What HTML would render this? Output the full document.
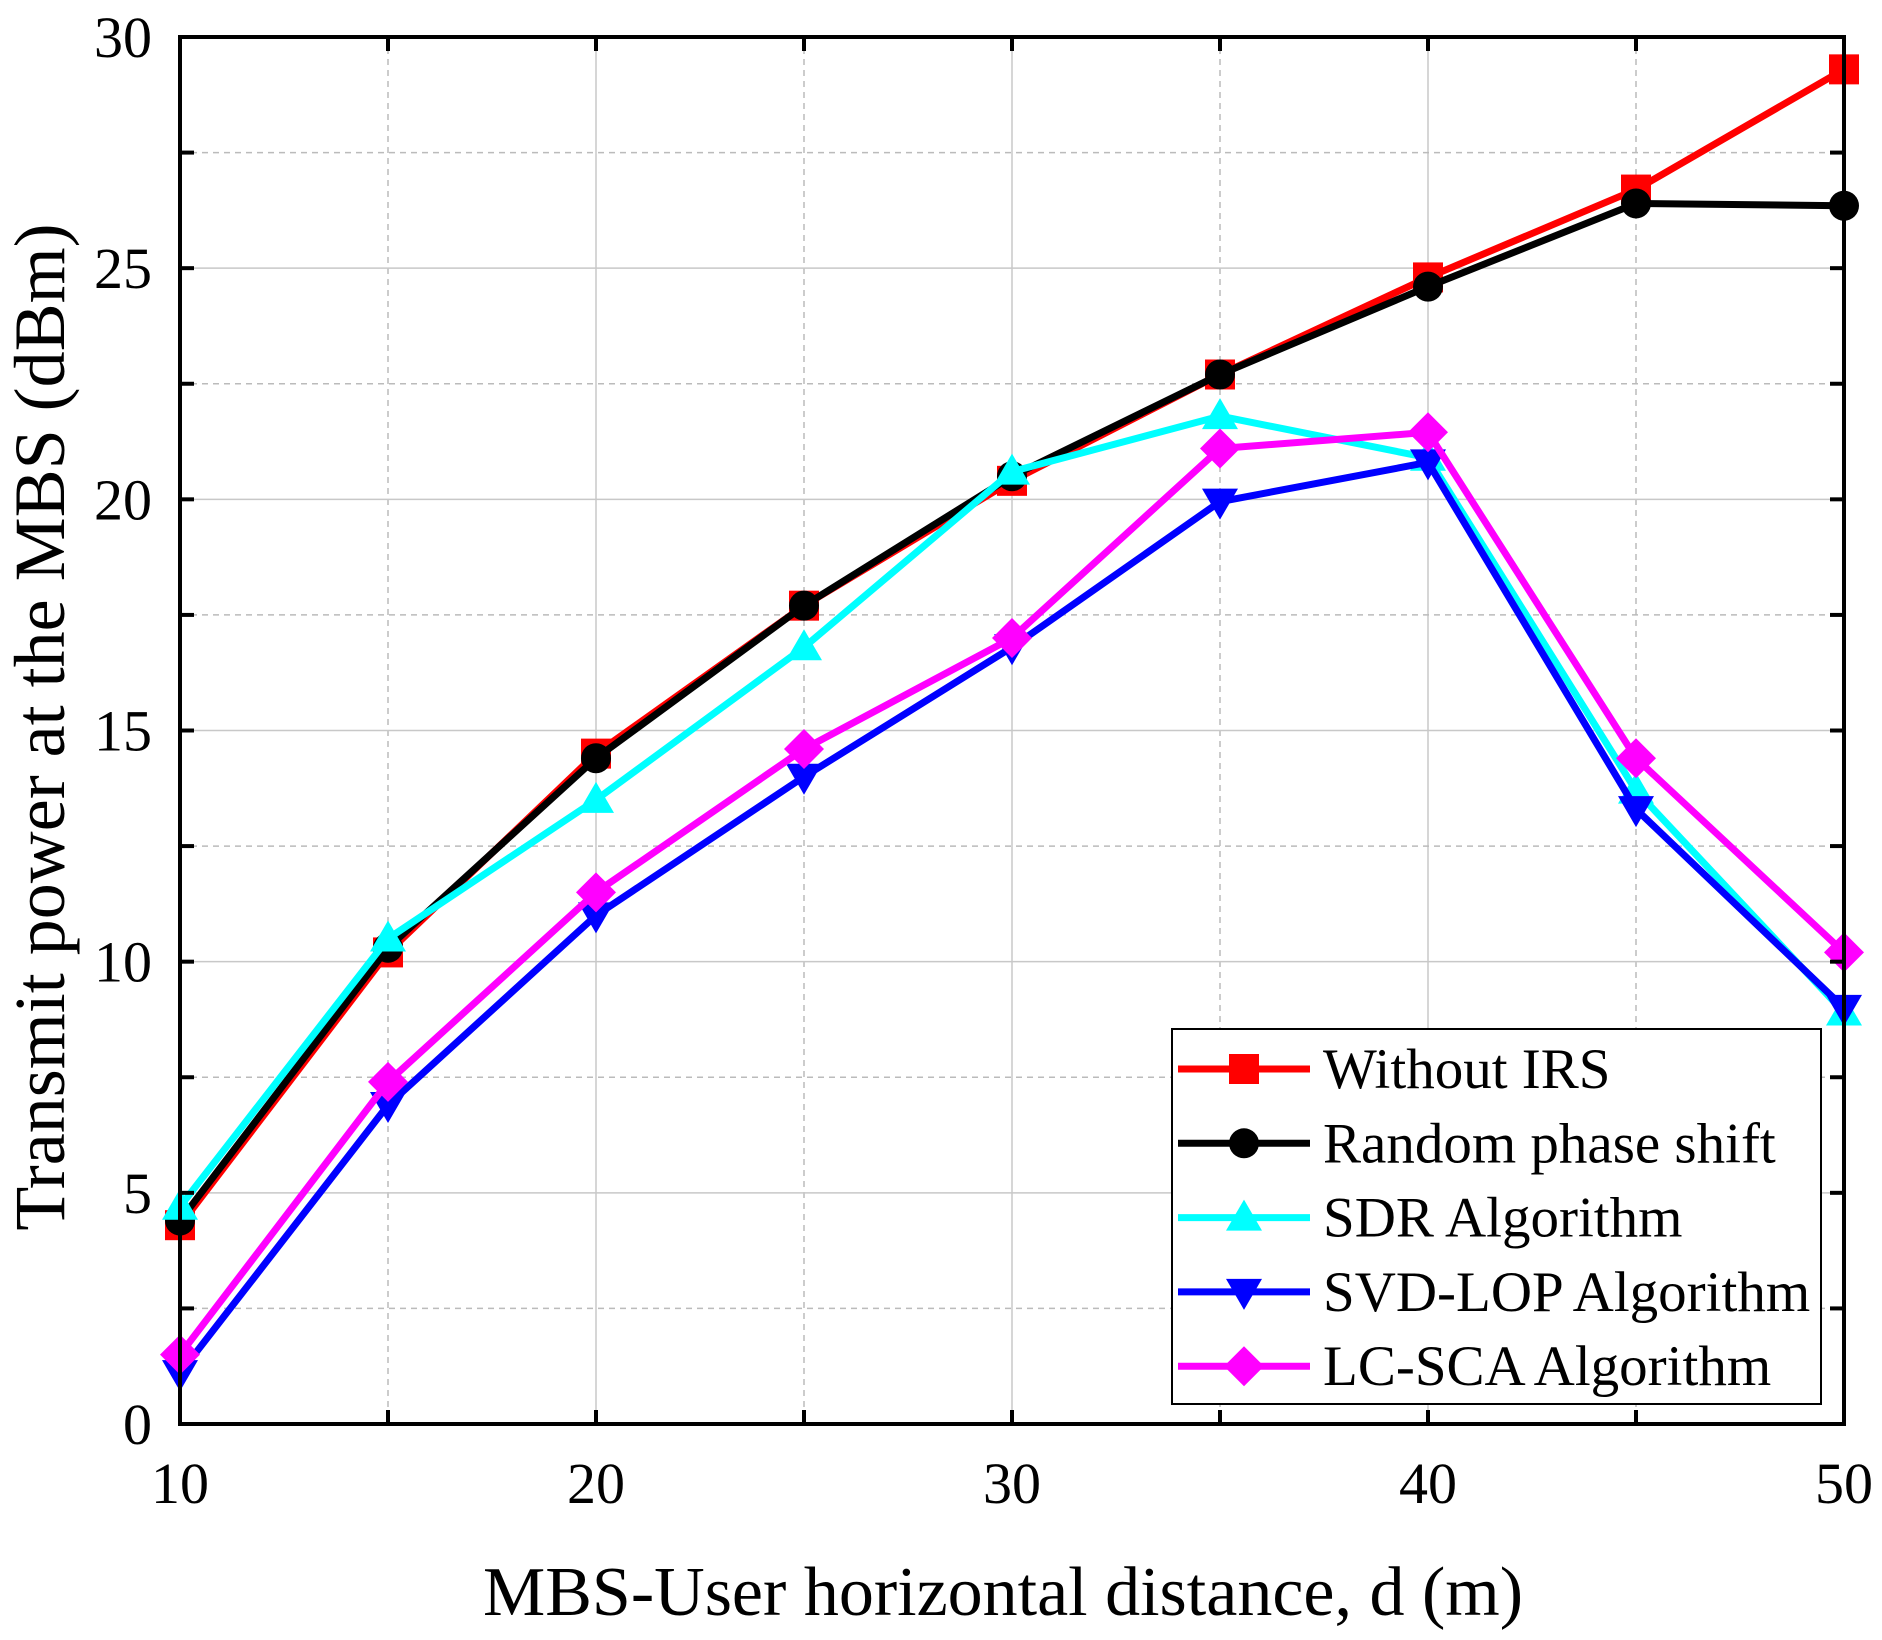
<!DOCTYPE html>
<html><head><meta charset="utf-8"><style>
html,body{margin:0;padding:0;background:#fff;}
svg{display:block;font-family:"Liberation Serif",serif;}
</style></head><body>
<svg id="chart" width="1882" height="1640" viewBox="0 0 1882 1640" xmlns="http://www.w3.org/2000/svg">
<g id="grid"></g>
<g id="series"></g>
<g id="axes"></g>
<g id="legend"></g>
<text x="1003" y="1615" font-size="70" text-anchor="middle">MBS-User horizontal distance, d (m)</text>
<text transform="translate(64,727) rotate(-90)" font-size="72" text-anchor="middle">Transmit power at the MBS (dBm)</text>
</svg>
<script>
const xValues = [10,15,20,25,30,35,40,45,50];
const withoutIRS = [4.3,10.2,14.5,17.7,20.4,22.7,24.8,26.7,29.3];
const randomPhase = [4.4,10.3,14.4,17.7,20.5,22.7,24.6,26.4,26.35];
const sdr = [4.7,10.5,13.5,16.8,20.6,21.8,20.9,13.7,8.9];
const svdLop = [1.1,6.9,11.0,14.0,16.8,19.95,20.8,13.3,9.0];
const lcSca = [1.5,7.4,11.5,14.6,17.0,21.1,21.45,14.4,10.2];
const xTicks = [10,20,30,40,50];
const yTicks = [0,5,10,15,20,25,30];
const seriesNames = ["Without IRS","Random phase shift","SDR Algorithm","SVD-LOP Algorithm","LC-SCA Algorithm"];

const NS="http://www.w3.org/2000/svg";
const L=180,R=1844,T=37,B=1424;
const X=v=>L+(v-10)/40*(R-L);
const Y=v=>B-v/30*(B-T);
function mk(tag,attrs,parent){const e=document.createElementNS(NS,tag);for(const k in attrs)e.setAttribute(k,attrs[k]);parent.appendChild(e);return e;}
const grid=document.getElementById('grid'),axes=document.getElementById('axes'),ser=document.getElementById('series'),leg=document.getElementById('legend');

for(let v=10;v<=50;v+=5){
  const major=(v%10===0);
  const g=mk('line',{x1:X(v),x2:X(v),y1:T,y2:B,stroke:major?'#c8c8c8':'#bbb','stroke-width':1.5,'stroke-dasharray':major?'none':'6,5'},grid);
  
  
  for(const [y0,y1] of [[B,B-14],[T,T+14]]){
    const t=mk('line',{x1:X(v),x2:X(v),y1:y0,y2:y1,stroke:'#000','stroke-width':4},axes);
    
    
  }
}
for(let v=0;v<=30;v+=2.5){
  const major=(v%5===0);
  const g=mk('line',{x1:L,x2:R,y1:Y(v),y2:Y(v),stroke:major?'#c8c8c8':'#bbb','stroke-width':1.5,'stroke-dasharray':major?'none':'6,5'},grid);
  
  
  for(const [x0,x1] of [[L,L+14],[R,R-14]]){
    const t=mk('line',{x1:x0,x2:x1,y1:Y(v),y2:Y(v),stroke:'#000','stroke-width':4},axes);
    
    
  }
}
const frame=mk('rect',{x:L,y:T,width:R-L,height:B-T,fill:'none',stroke:'#000','stroke-width':4},axes);


xTicks.forEach(v=>{
  const t=mk('text',{x:X(v),y:1503,'font-size':58,'text-anchor':'middle'},axes);t.textContent=v;
  
  
});
yTicks.forEach(v=>{
  const t=mk('text',{x:152,y:Y(v)+20,'font-size':58,'text-anchor':'end'},axes);t.textContent=v;
  
  
});

function marker(type,cx,cy,color,parent){
  const s=15;let e;
  if(type==='square')e=mk('rect',{x:cx-s,y:cy-s,width:2*s,height:2*s,fill:color},parent);
  else if(type==='circle')e=mk('circle',{cx:cx,cy:cy,r:s,fill:color},parent);
  else if(type==='up')e=mk('polygon',{points:`${cx},${cy-s-3} ${cx-s-3},${cy+s-2} ${cx+s+3},${cy+s-2}`,fill:color},parent);
  else if(type==='down')e=mk('polygon',{points:`${cx},${cy+s+3} ${cx-s-3},${cy-s+2} ${cx+s+3},${cy-s+2}`,fill:color},parent);
  else e=mk('polygon',{points:`${cx},${cy-s-5} ${cx+s+5},${cy} ${cx},${cy+s+5} ${cx-s-5},${cy}`,fill:color},parent);
  return e;
}
const defs=[[withoutIRS,'#ff0000','square'],[randomPhase,'#000000','circle'],[sdr,'#00ffff','up'],[svdLop,'#0000ff','down'],[lcSca,'#ff00ff','diamond']];
defs.forEach(([data,color,m],i)=>{
  const g=mk('g',{},ser);
  
  
  const pts=data.map((v,j)=>X(xValues[j])+','+Y(v)).join(' ');
  const pl=mk('polyline',{points:pts,fill:'none',stroke:color,'stroke-width':7,'stroke-linejoin':'round'},g);
  
  
  data.forEach((v,j)=>{
    const mm=marker(m,X(xValues[j]),Y(v),color,g);
    
    
  });
});
const box=mk('rect',{x:1172,y:1029,width:649,height:375,fill:'#fff',stroke:'#000','stroke-width':2},leg);


defs.forEach(([d,color,m],i)=>{
  const y=1069+i*74.3;
  const g=mk('g',{},leg);
  
  
  mk('line',{x1:1178,x2:1310,y1:y,y2:y,stroke:color,'stroke-width':7},g);
  marker(m,1244,y,color,g);
  const t=mk('text',{x:1323,y:y+19,'font-size':57},g);t.textContent=seriesNames[i];
});
</script>
</body></html>
